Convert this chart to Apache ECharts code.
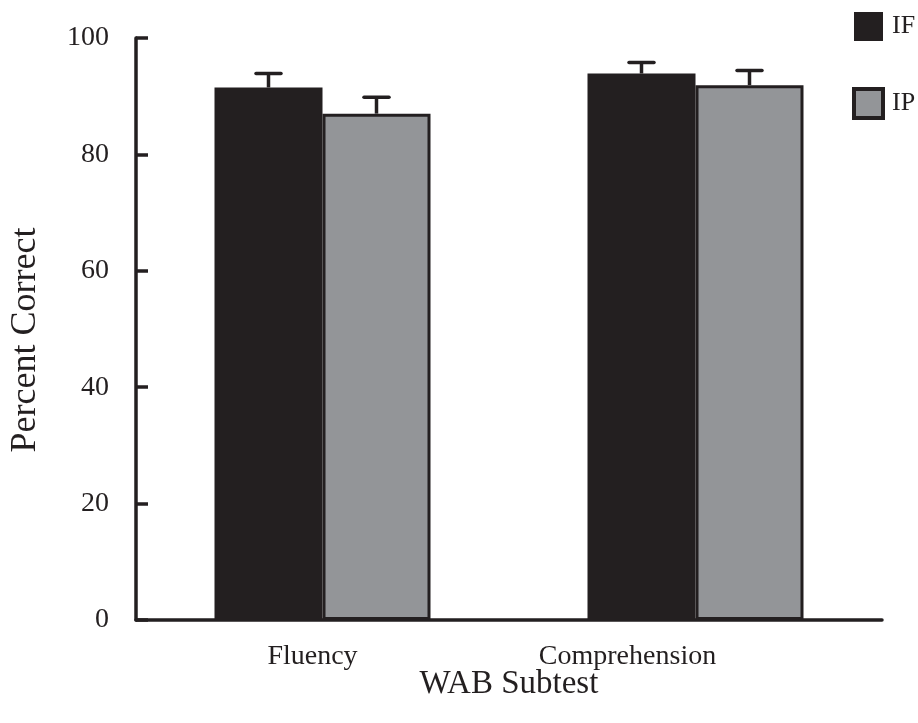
<!DOCTYPE html>
<html>
<head>
<meta charset="utf-8">
<script src="https://cdn.jsdelivr.net/npm/echarts@6/dist/echarts.min.js"></script>
<style>
html,body{margin:0;padding:0;background:#fff;}
#chart{width:918px;height:723px;}
</style>
</head>
<body>
<div id="chart"></div>
<script>
var categories = ['Fluency', 'Comprehension'];
var seriesNames = ['IF', 'IP'];
var ifValues = [91.5, 93.9];
var ifErrors = [2.4, 1.9];
var ipValues = [87.0, 91.9];
var ipErrors = [2.8, 2.5];
var yTicks = [0, 20, 40, 60, 80, 100];

var FONT = '"Liberation Serif", "Times New Roman", serif';
var DARK = '#231f20';
var GRAY = '#939598';
var BAR_W = 108;

function errorSeries(values, errors, offset) {
  var data = values.map(function (v, i) { return [i, v, v + errors[i]]; });
  return {
    type: 'custom',
    z: 10,
    silent: true,
    data: data,
    renderItem: function (params, api) {
      var base = api.coord([api.value(0), api.value(1)]);
      var top = api.coord([api.value(0), api.value(2)]);
      var x = base[0] + offset;
      var capHalf = 12.5;
      return {
        type: 'group',
        children: [
          { type: 'line', shape: { x1: x, y1: base[1], x2: x, y2: top[1] },
            style: { stroke: DARK, lineWidth: 3.5 } },
          { type: 'line', shape: { x1: x - capHalf, y1: top[1], x2: x + capHalf, y2: top[1] },
            style: { stroke: DARK, lineWidth: 3.5, lineCap: 'round' } }
        ]
      };
    }
  };
}

var labelShift = { 'Fluency': 20, 'Comprehension': 136 };

var chart = echarts.init(document.getElementById('chart'));
chart.setOption({
  animation: false,
  backgroundColor: '#ffffff',
  textStyle: { fontFamily: FONT, color: DARK },
  grid: { left: 136, right: 36, top: 38, bottom: 103, containLabel: false },
  legend: {
    orient: 'vertical',
    left: 847,
    top: 7,
    itemWidth: 29,
    itemHeight: 29,
    itemGap: 46,
    icon: 'rect',
    data: [
      { name: seriesNames[0] },
      { name: seriesNames[1], itemStyle: { color: GRAY, borderColor: DARK, borderWidth: 4 } }
    ],
    textStyle: { fontFamily: FONT, fontSize: 26, color: DARK, padding: [0, 0, 0, 4] }
  },
  xAxis: {
    type: 'category',
    data: categories,
    name: 'WAB Subtest',
    nameLocation: 'middle',
    nameGap: 48,
    nameMoveOverlap: false,
    nameTextStyle: { fontFamily: FONT, fontSize: 33, color: DARK },
    axisLine: { lineStyle: { color: DARK, width: 3.5 } },
    axisTick: { show: false },
    axisLabel: {
      margin: 23,
      formatter: function (v) { return '{' + (v === 'Fluency' ? 'a' : 'b') + '|' + v + '}'; },
      rich: {
        a: { fontFamily: FONT, fontSize: 28, color: DARK, padding: [0, labelShift['Fluency'], 0, 0] },
        b: { fontFamily: FONT, fontSize: 28, color: DARK, padding: [0, labelShift['Comprehension'], 0, 0] }
      }
    },
    splitLine: { show: false }
  },
  yAxis: {
    type: 'value',
    min: yTicks[0],
    max: yTicks[yTicks.length - 1],
    interval: yTicks[1] - yTicks[0],
    name: 'Percent Correct',
    nameLocation: 'middle',
    nameGap: 92,
    nameMoveOverlap: false,
    nameTextStyle: { fontFamily: FONT, fontSize: 36, color: DARK, padding: [0, 22, 0, 0] },
    axisLine: { show: true, lineStyle: { color: DARK, width: 3.5 } },
    axisTick: { show: true, inside: true, length: 12, lineStyle: { color: DARK, width: 3.5 } },
    axisLabel: { margin: 27, fontFamily: FONT, fontSize: 28, color: DARK },
    splitLine: { show: false }
  },
  series: [
    {
      name: seriesNames[0],
      type: 'bar',
      data: ifValues,
      barWidth: BAR_W,
      barGap: '0%',
      itemStyle: { color: DARK }
    },
    {
      name: seriesNames[1],
      type: 'bar',
      data: ipValues,
      barWidth: BAR_W,
      barGap: '0%',
      itemStyle: { color: GRAY, borderColor: DARK, borderWidth: 3 }
    },
    errorSeries(ifValues, ifErrors, -BAR_W / 2),
    errorSeries(ipValues, ipErrors, BAR_W / 2)
  ]
});
</script>
</body>
</html>
